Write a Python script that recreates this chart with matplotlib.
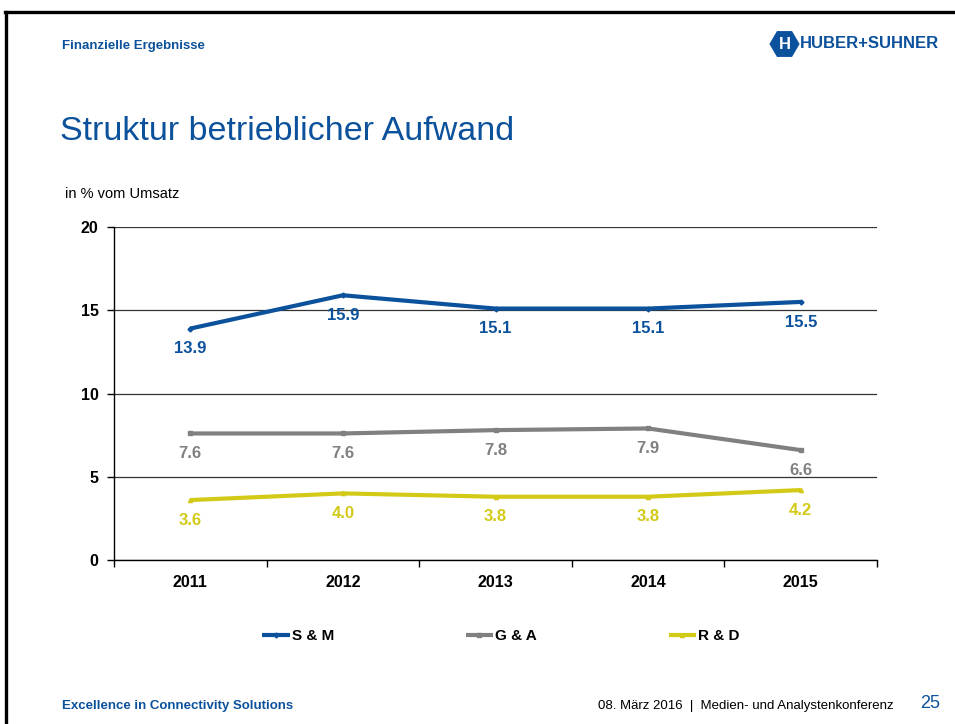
import matplotlib
matplotlib.use('Agg')
import matplotlib.pyplot as plt
import numpy as np
from matplotlib.lines import Line2D
from matplotlib.patches import RegularPolygon

plt.rcParams['font.family'] = ['Liberation Sans', 'DejaVu Sans']

# data, in % of sales
years = ['2011', '2012', '2013', '2014', '2015']
sm = [13.9, 15.9, 15.1, 15.1, 15.5]
ga = [7.6, 7.6, 7.8, 7.9, 6.6]
rd = [3.6, 4.0, 3.8, 3.8, 4.2]
series_names = ['S & M', 'G & A', 'R & D']
y_ticks = [0, 5, 10, 15, 20]

BLUE = '#0B519B'
GRAY = '#808080'
YELLOW = '#D3CA18'

fig = plt.figure(figsize=(9.55, 7.24), dpi=100)
W, H = 955, 724


def fx(px):
    return px / W


def fy(py):
    return 1 - py / H


# slide frame (top and left border)
fig.add_artist(Line2D([fx(5), 1.0], [fy(12), fy(12)], color='black', lw=2.4))
fig.add_artist(Line2D([fx(6.2), fx(6.2)], [fy(12), 0.0], color='black', lw=2.4))

# header
fig.text(fx(62), fy(46), 'Finanzielle Ergebnisse', color=BLUE, fontsize=9.5,
         fontweight='bold', va='center', ha='left')
fig.text(fx(60), fy(132), 'Struktur betrieblicher Aufwand', color=BLUE,
         fontsize=24.5, va='center', ha='left')

# logo
lax = fig.add_axes([fx(769), fy(58), fx(31), 28 / H])
lax.set_xlim(-1.15, 1.15)
lax.set_ylim(-1.05, 1.05)
lax.axis('off')
lax.add_patch(RegularPolygon((0, 0), 6, radius=1.12, orientation=np.pi / 6,
                             facecolor=BLUE, edgecolor='none'))
lax.text(0, -0.05, 'H', color='white', fontsize=12, fontweight='bold',
         ha='center', va='center')
fig.text(fx(800), fy(44), 'HUBER+SUHNER', color=BLUE, fontsize=12,
         fontweight='heavy', va='center', ha='left')

fig.text(fx(65), fy(194), 'in % vom Umsatz', fontsize=10.5, va='center',
         ha='left')

# chart
ax = fig.add_axes([fx(114), fy(560), fx(877) - fx(114), (560 - 227) / H])
x = np.arange(len(years))
styles = [(sm, BLUE, 'D', 2.5), (ga, GRAY, 's', 3), (rd, YELLOW, '^', 3)]
for (vals, col, mk, ms), name in zip(styles, series_names):
    ax.plot(x, vals, color=col, lw=3, marker=mk, markersize=ms,
            label=name, solid_capstyle='butt')
    for xi, v in zip(x, vals):
        ax.annotate(f'{v:.1f}', (xi, v), xytext=(0, -14.5),
                    textcoords='offset points', ha='center', va='center',
                    color=col, fontsize=12, fontweight='bold')

ax.set_xlim(-0.5, len(years) - 0.5)
ax.set_ylim(0, 20)
ax.set_yticks(y_ticks)
ax.set_yticklabels([str(t) for t in y_ticks], fontsize=11.5, fontweight='bold')
ax.set_xticks(x)
ax.set_xticklabels(years, fontsize=11.5, fontweight='bold')
ax.set_xticks(np.arange(-0.5, len(years)), minor=True)
ax.tick_params(axis='x', which='major', length=0, pad=11)
ax.tick_params(axis='x', which='minor', length=5, width=1, direction='out')
ax.tick_params(axis='y', length=5, width=1, direction='out', pad=6)
ax.grid(axis='y', color='#333333', lw=0.9)
ax.set_axisbelow(True)
for s in ['top', 'right']:
    ax.spines[s].set_visible(False)
ax.spines['left'].set_linewidth(1)
ax.spines['bottom'].set_linewidth(1)

fig.legend(loc='center', bbox_to_anchor=(fx(501), fy(636)), ncol=3,
           frameon=False, handlelength=1.8, handletextpad=0.15,
           columnspacing=8.6, prop={'size': 11, 'weight': 'bold'})

# footer
fig.text(fx(62), fy(706), 'Excellence in Connectivity Solutions', color=BLUE,
         fontsize=9.5, fontweight='bold', va='center', ha='left')
fig.text(fx(894), fy(706), '08. März 2016  |  Medien- und Analystenkonferenz',
         fontsize=9.5, va='center', ha='right')
fig.text(fx(940), fy(704), '25', color=BLUE, fontsize=13, va='center',
         ha='right')

fig.savefig('out.png', dpi=100)
